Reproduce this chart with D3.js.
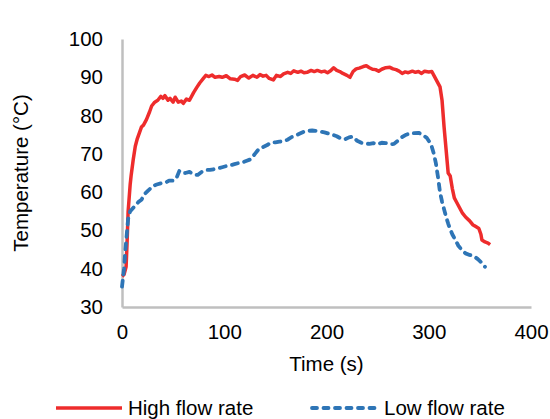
<!DOCTYPE html>
<html>
<head>
<meta charset="utf-8">
<script src="https://cdn.jsdelivr.net/npm/d3@7"></script>
<style>
  body { margin: 0; background: #fff; }
  text { font-family: "Liberation Sans", Arial, sans-serif; fill: #000; }
</style>
</head>
<body>
<div id="chart"></div>
<script>
// données
const highTime = [0,2,4,5,6,8,9,11,13,15,17,19,21,24,27,29,32,35,38,40,42,45,47,50,52,55,58,60,63,66,70,73,76,79,82,85,88,91,95,98,102,106,110,113,116,120,124,128,132,135,138,141,144,148,151,155,158,162,165,168,172,175,178,181,185,188,191,195,198,201,204,207,210,213,216,220,223,226,229,232,236,239,242,245,248,251,254,258,262,265,268,271,274,277,280,284,287,290,293,296,300,303,305,308,311,313,315,317,319,321,323,325,327,330,333,336,340,343,346,349,351,352,355,358,360];
const highTemp = [38,38.5,40.5,47,55,62,64.5,68.5,72,74,75.5,77,77.5,79,81,82.5,83.5,84,85,84.5,85.2,84,84.5,83.5,84.8,83.5,83.8,83.2,84.3,84,86,87.3,88.5,89.5,90.5,90.2,90.6,90,90.2,90,90.4,89.6,89.5,89.2,90.2,90.6,89.8,90.5,90,90.7,90.3,90.5,89.7,89.3,90.5,90.2,90.9,91.3,91,91.7,91.3,91.6,91.2,91.3,91.8,91.5,91.8,91.4,91.6,91.2,91.7,92.5,91.8,91.5,91,90.5,90,91.5,92.2,92.4,92.8,93,92.5,92.1,92,91.6,92.1,92.5,92.6,92.2,92,91.6,91,91.4,91.2,91.6,91.3,91.5,91,91.6,91.4,91.5,90.5,89,87.5,84,77,71,65,64.2,61,58.5,57.5,56,54.5,53.5,52.5,51.5,51,50.5,49,47.5,47,46.7,46.3];

const lowTime = [0,2,3,5,6,8,10,13,16,19,22,26,30,34,38,42,46,50,53,56,58,62,66,70,74,78,82,86,90,94,98,102,106,110,114,118,122,126,130,134,138,142,146,150,154,158,162,166,170,174,178,182,186,190,194,198,202,206,210,214,218,222,226,230,234,238,242,246,250,254,258,262,266,270,274,278,282,286,290,294,298,301,303,305,307,309,311,313,315,317,319,321,323,326,329,332,336,340,344,348,352,355];
const lowTemp = [35.3,40,44,50,53,55,55.6,56.5,57.4,58,59.5,60.5,61.6,62,62.3,62.4,63,63,63.5,65.5,65,65,65.3,64.6,64.5,65.3,65.8,65.8,66,66.2,66.5,66.8,67,67.3,67.6,67.8,68.2,68.6,70,71.3,71.8,72.3,73,73,73.2,73.3,73.7,74.4,74.8,75.3,75.8,76,76.1,76,75.8,75.6,75.3,75,74.6,74,73.8,74.3,74.5,73.4,72.9,72.7,72.6,72.8,72.5,72.9,72.8,72.5,72.6,73.5,74.4,75,75.4,75.4,75.5,75,74.2,73,71.8,70,67.5,64,60,57.5,55.5,53.5,51.8,50.3,49,47.5,46,45,44,43.6,43.3,42.5,41.5,40.5];

const seriesNames = ["High flow rate", "Low flow rate"];
const xTicks = [0, 100, 200, 300, 400];
const yTicks = [30, 40, 50, 60, 70, 80, 90, 100];

const high = highTime.map((t, i) => ({ t: t, v: highTemp[i] }));
const low = lowTime.map((t, i) => ({ t: t, v: lowTemp[i] }));

// marges
let margin = { top: 39, right: 19, bottom: 112, left: 122 };
let width = 550 - margin.left - margin.right,
    height = 419 - margin.top - margin.bottom;

let svg = d3.select("#chart")
    .append("svg")
    .attr("width", 550)
    .attr("height", 419)
    .append("g")
    .attr("transform", "translate(" + margin.left + "," + margin.top + ")");

let x = d3.scaleLinear().domain([0, 400]).range([0, width]);
let y = d3.scaleLinear().domain([30, 100]).range([height, 0]);

// axes
let xAxis = svg.append("g")
    .attr("transform", "translate(0," + height + ")")
    .call(d3.axisBottom(x).tickValues(xTicks).tickSize(0).tickPadding(17));
let yAxis = svg.append("g")
    .call(d3.axisLeft(y).tickValues(yTicks).tickSize(0).tickPadding(19));

[xAxis, yAxis].forEach(a => {
    a.select(".domain").attr("stroke", "#bfbfbf").attr("stroke-width", 2.5);
    a.selectAll("text")
        .style("font-size", "20.5px")
        .style("font-family", "Liberation Sans, Arial, sans-serif")
        .attr("fill", "#000");
});

// courbes
let line = d3.line()
    .x(d => x(d.t))
    .y(d => y(d.v));

svg.append("path")
    .datum(high)
    .attr("fill", "none")
    .attr("stroke", "#ee2c2c")
    .attr("stroke-width", 3.5)
    .attr("stroke-linejoin", "round")
    .attr("d", line);

svg.append("path")
    .datum(low)
    .attr("fill", "none")
    .attr("stroke", "#2e75b6")
    .attr("stroke-width", 3.8)
    .attr("stroke-dasharray", "6,6.5")
    .attr("stroke-linecap", "round")
    .attr("stroke-linejoin", "round")
    .attr("d", line);

// titres des axes
svg.append("text")
    .text("Time (s)")
    .attr("text-anchor", "middle")
    .attr("x", x(200))
    .attr("y", height + 64)
    .style("font-size", "20.5px");

svg.append("text")
    .text("Temperature (°C)")
    .attr("text-anchor", "middle")
    .attr("transform", "rotate(-90)")
    .attr("x", -(y(65)))
    .attr("y", -94)
    .style("font-size", "20.5px");

// légende
let legend = d3.select("svg").append("g");
let legendX = [56, 312];
seriesNames.forEach((name, i) => {
    legend.append("line")
        .attr("x1", legendX[i])
        .attr("x2", legendX[i] + 66)
        .attr("y1", 408)
        .attr("y2", 408)
        .attr("stroke", i === 0 ? "#ee2c2c" : "#2e75b6")
        .attr("stroke-width", i === 0 ? 3.5 : 3.8)
        .attr("stroke-dasharray", i === 0 ? null : "5,6.5")
        .attr("stroke-linecap", i === 0 ? "butt" : "round");
    legend.append("text")
        .text(name)
        .attr("x", legendX[i] + 72)
        .attr("y", 415)
        .style("font-size", "20.5px");
});
</script>
</body>
</html>
